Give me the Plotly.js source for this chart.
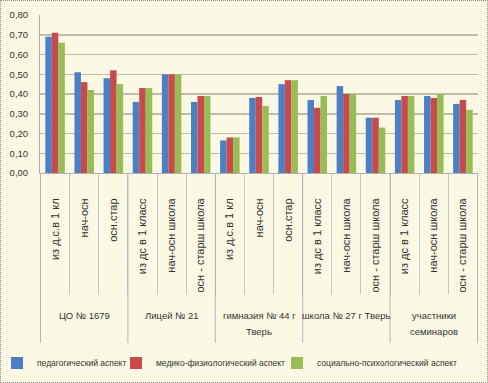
<!DOCTYPE html>
<html><head><meta charset="utf-8">
<script src="https://cdn.plot.ly/plotly-3.0.1.min.js"></script>
<style>
html,body{margin:0;padding:0;background:#fbf9e3;}
#chart{position:absolute;left:0;top:0;width:488px;height:383px;}
#frame{position:absolute;left:0;top:0;width:486px;height:381px;border:1px dotted #8a8a8a;pointer-events:none;}
</style></head>
<body>
<div id="chart"></div><div id="frame"></div>
<script>
// ---- data ----
const groupLabels = ["ЦО № 1679", "Лицей № 21", "гимназия № 44 г<br>Тверь", "школа № 27 г Тверь", "участники<br>семинаров"];
const groupSizes = [3, 3, 3, 3, 3];
const categories = [
  "из д.с.в 1 кл", "нач-осн", "осн.стар",
  "из дс в 1 класс", "нач-осн школа", "осн - старш школа",
  "из д.с.в 1 кл", "нач-осн", "осн.стар",
  "из дс в 1 класс", "нач-осн школа", "осн - старш школа",
  "из дс в 1 класс", "нач-осн школа", "осн - старш школа"
];
const seriesNames = ["педагогический аспект", "медико-физиологический аспект", "социально-психологический аспект"];
const pedagog = [0.69, 0.51, 0.48, 0.36, 0.50, 0.36, 0.165, 0.38, 0.45, 0.37, 0.44, 0.28, 0.37, 0.39, 0.35];
const medic   = [0.71, 0.46, 0.52, 0.43, 0.50, 0.39, 0.18, 0.385, 0.47, 0.33, 0.40, 0.28, 0.39, 0.38, 0.37];
const social  = [0.66, 0.42, 0.45, 0.43, 0.50, 0.39, 0.18, 0.34, 0.47, 0.39, 0.40, 0.23, 0.39, 0.40, 0.32];
const colors = ["#4b7fc6", "#c94a4b", "#98bd57"];

// unique keys for the category axis
const keys = categories.map((c, i) => i + ":" + c);
const seriesValues = [pedagog, medic, social];

const FONT = "Liberation Sans, Arial, sans-serif";
const legendX = [-0.0913, 0.1735, 0.541];
const traces = seriesValues.map((vals, k) => ({
  type: "bar", x: keys, y: vals, name: seriesNames[k],
  marker: {color: colors[k], line: {width: 0}},
  legend: k === 0 ? "legend" : "legend" + (k + 1),
  hoverinfo: "y+name"
}));

// group separators and labels
const shapes = [];
const annotations = [];
let start = 0;
const sep = {color: "#b4b4b4", width: 1};
shapes.push({type: "line", xref: "x", yref: "paper", x0: -0.5, x1: -0.5, y0: 0, y1: -1.076, line: sep});
groupSizes.forEach((n, g) => {
  const end = start + n;
  shapes.push({type: "line", xref: "x", yref: "paper", x0: end - 0.5, x1: end - 0.5, y0: 0, y1: -1.076, line: sep});
  groupLabels[g].split("<br>").forEach((line, j) => {
    annotations.push({xref: "x", yref: "paper", x: start + (n - 1) / 2, y: -0.855 - j * 16 / 158,
      yanchor: "top", xanchor: "center",
      text: line, showarrow: false, font: {family: FONT, size: 9.5, color: "#333"}});
  });
  start = end;
});

const legendBase = {orientation: "h", yanchor: "middle", y: -1.2025, xanchor: "left", bgcolor: "rgba(0,0,0,0)",
  font: {family: FONT, size: 8.5, color: "#333"}};

const layout = {
  width: 488, height: 383,
  margin: {l: 40, r: 10, t: 15, b: 210, autoexpand: false},
  paper_bgcolor: "#fbf9e3", plot_bgcolor: "#fbf9e3",
  separators: ",.",
  barmode: "group", bargap: 0.33, bargroupgap: 0,
  showlegend: true,
  legend: Object.assign({}, legendBase, {x: legendX[0], indentation: -3}),
  legend2: Object.assign({}, legendBase, {x: legendX[1]}),
  legend3: Object.assign({}, legendBase, {x: legendX[2]}),
  xaxis: {
    type: "category", tickmode: "array", tickvals: keys, ticktext: categories,
    tickangle: -90, tickson: "boundaries", ticks: "outside", ticklen: 120, tickcolor: "#c4c4c4", tickwidth: 1,
    ticklabelstandoff: 20,
    showline: true, linecolor: "#b0b0b0", linewidth: 1, showgrid: false,
    tickfont: {family: FONT, size: 11, color: "#333"}, fixedrange: true
  },
  yaxis: {
    range: [0, 0.8], dtick: 0.1, tickformat: ".2f", ticks: "",
    showline: true, linecolor: "#b0b0b0", linewidth: 1,
    showgrid: true, gridcolor: "#bfbdaa", gridwidth: 1.5, zeroline: false,
    ticklabelstandoff: 9,
    tickfont: {family: FONT, size: 9.5, color: "#333"}, fixedrange: true
  },
  shapes: shapes, annotations: annotations
};

Plotly.newPlot("chart", traces, layout, {displayModeBar: false, staticPlot: true});
</script>
</body></html>
